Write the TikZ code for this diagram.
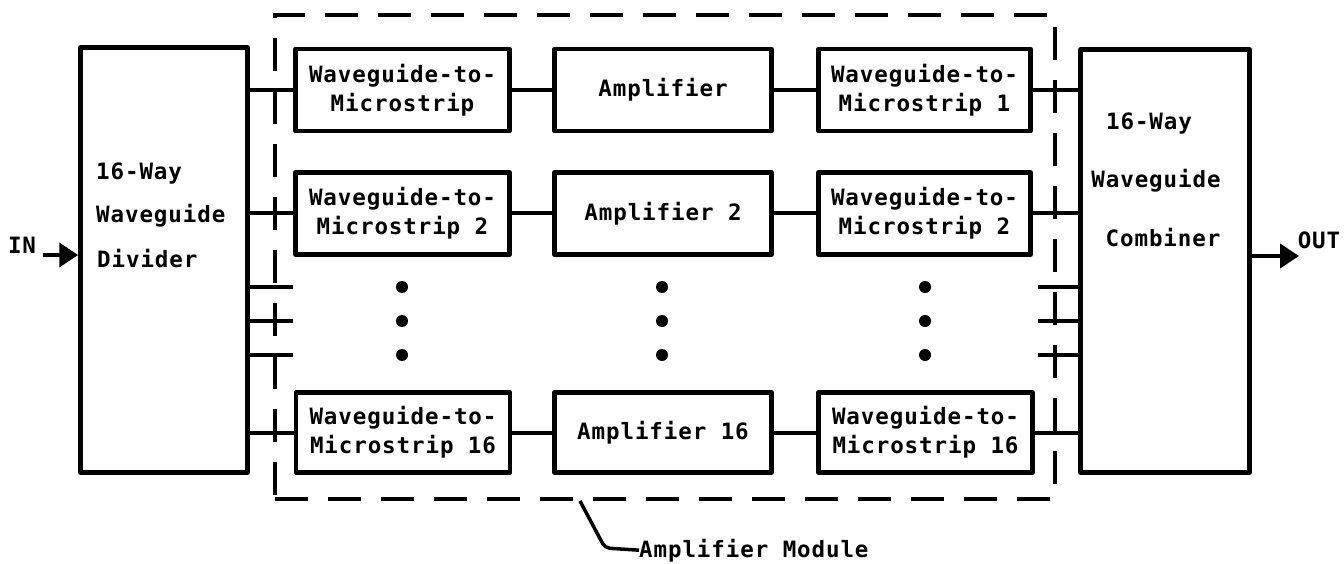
\documentclass[tikz,border=0pt]{standalone}
\usepackage{fontspec}
\newfontfamily\tw[LetterSpace=4]{DejaVu Sans Mono Bold}
\usetikzlibrary{arrows.meta}
\begin{document}
\begin{tikzpicture}[x=1pt,y=-1pt,
  box/.style={draw, line width=4.5pt, line join=round, align=center, inner sep=0pt,
    font=\tw\fontsize{22.5}{29}\selectfont},
  wire/.style={line width=4pt},
  dotc/.style={circle, fill, minimum size=12pt, inner sep=0pt},
  lab/.style={font=\tw\fontsize{22.5}{25}\selectfont, inner sep=0pt},
  modbox/.style={draw, line width=4pt, dash pattern=on 33pt off 20pt, inner sep=0pt},
  sig/.style={wire, -{Triangle[length=19pt,width=24pt]}}]
\useasboundingbox (0,0) rectangle (1344,564);
% big boxes
\node[box, minimum width=167pt, minimum height=425pt] (div) at (164,260) {};
\node[box, minimum width=169pt, minimum height=423pt] (comb) at (1165,261) {};
\node[lab, anchor=base west] (dt1) at (96,180) {16-Way};
\node[lab, anchor=base west] (dt2) at (96,223) {Waveguide};
\node[lab, anchor=base west] (dt3) at (97,267) {Divider};
\node[lab, anchor=base] (ct1) at (1149,130) {16-Way};
\node[lab, anchor=base] (ct2) at (1156,188) {Waveguide};
\node[lab, anchor=base] (ct3) at (1163,247) {Combiner};
% row 1
\node[box, minimum width=214pt, minimum height=82pt] (a1) at (402.5,90) {Waveguide-to-\\Microstrip};
\node[box, minimum width=217pt, minimum height=82pt] (b1) at (663,90) {Amplifier};
\node[box, minimum width=212pt, minimum height=82pt] (c1) at (924.5,90) {Waveguide-to-\\Microstrip 1};
% row 2
\node[box, minimum width=214pt, minimum height=82pt] (a2) at (402.5,213.5) {Waveguide-to-\\Microstrip 2};
\node[box, minimum width=217pt, minimum height=82pt] (b2) at (663,213.5) {Amplifier 2};
\node[box, minimum width=212pt, minimum height=82pt] (c2) at (924.5,213.5) {Waveguide-to-\\Microstrip 2};
% row 16
\node[box, minimum width=214pt, minimum height=80pt] (a16) at (403,432.5) {Waveguide-to-\\Microstrip 16};
\node[box, minimum width=217pt, minimum height=80pt] (b16) at (663,432.5) {Amplifier 16};
\node[box, minimum width=214pt, minimum height=80pt] (c16) at (925.5,432.5) {Waveguide-to-\\Microstrip 16};
% wires
\foreach \r in {1,2,16}{
  \draw[wire] (a\r.west -| div.east) -- (a\r.west);
  \draw[wire] (a\r) -- (b\r);
  \draw[wire] (b\r) -- (c\r);
  \draw[wire] (c\r.east) -- (c\r.east -| comb.west);
}
% dots and stubs
\foreach \y [count=\i] in {287,321,355}{
  \node[dotc] (dl\i) at (402,\y) {};
  \node[dotc] (dm\i) at (662,\y) {};
  \node[dotc] (dr\i) at (925,\y) {};
  \coordinate (ls\i) at (293,\y);
  \coordinate (rs\i) at (1038,\y);
  \draw[wire] (ls\i -| div.east) -- (ls\i);
  \draw[wire] (rs\i) -- (rs\i -| comb.west);
}
% module
\node[modbox, minimum width=780pt, minimum height=484pt] (mod) at (665,257) {};
\node[lab, anchor=base west] (amod) at (639,557) {Amplifier Module};
\draw[line width=3.5pt, rounded corners=5pt] ([xshift=-85pt]mod.south) -- (605,548) -- (amod.west);
% in / out
\node[lab] (inl) at (22,245) {IN};
\coordinate (inst) at (43,255);
\draw[sig] (inst) -- (inst -| div.west);
\coordinate (outend) at (1299,256);
\draw[sig] (outend -| comb.east) -- (outend);
\node[lab] (outl) at (1319,240) {OUT};
\end{tikzpicture}
\end{document}
